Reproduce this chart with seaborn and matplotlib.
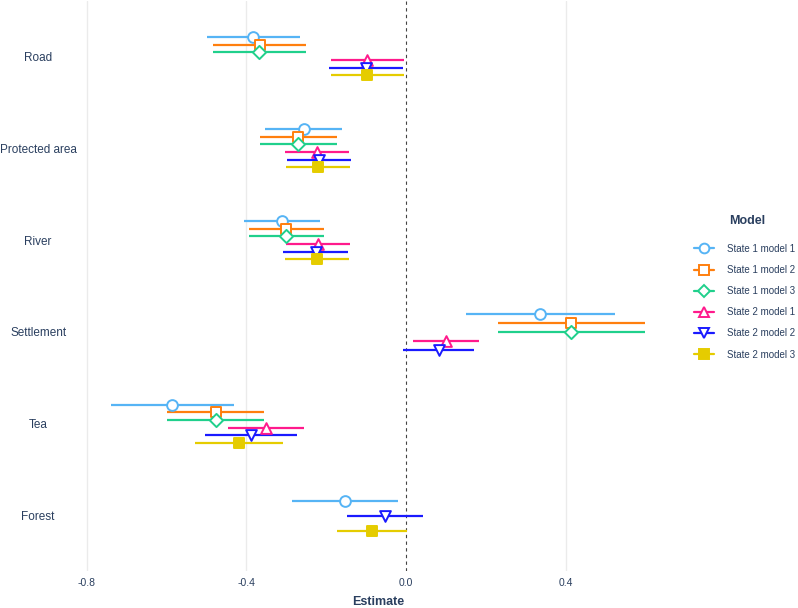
import numpy as np
import pandas as pd
import seaborn as sns
import matplotlib.pyplot as plt
from matplotlib.lines import Line2D

nan = np.nan

predictors = ["Road", "Protected area", "River", "Settlement", "Tea", "Forest"]
models = ["State 1 model 1", "State 1 model 2", "State 1 model 3",
          "State 2 model 1", "State 2 model 2", "State 2 model 3"]

s1m1_est = [-0.383, -0.257, -0.312, 0.336, -0.586, -0.152]
s1m1_lo = [-0.499, -0.354, -0.405, 0.150, -0.740, -0.286]
s1m1_hi = [-0.267, -0.161, -0.217, 0.523, -0.431, -0.021]

s1m2_est = [-0.367, -0.270, -0.300, 0.413, -0.476, nan]
s1m2_lo = [-0.483, -0.366, -0.394, 0.229, -0.598, nan]
s1m2_hi = [-0.252, -0.174, -0.206, 0.599, -0.355, nan]

s1m3_est = [-0.368, -0.271, -0.301, 0.413, -0.477, nan]
s1m3_lo = [-0.483, -0.366, -0.394, 0.229, -0.598, nan]
s1m3_hi = [-0.252, -0.174, -0.206, 0.599, -0.355, nan]

s2m1_est = [-0.097, -0.223, -0.222, 0.100, -0.351, nan]
s2m1_lo = [-0.189, -0.303, -0.301, 0.018, -0.445, nan]
s2m1_hi = [-0.005, -0.143, -0.141, 0.182, -0.257, nan]

s2m2_est = [-0.101, -0.218, -0.227, 0.082, -0.389, -0.054]
s2m2_lo = [-0.193, -0.298, -0.308, -0.008, -0.503, -0.147]
s2m2_hi = [-0.008, -0.137, -0.146, 0.170, -0.273, 0.042]

s2m3_est = [-0.097, -0.222, -0.224, nan, -0.419, -0.085]
s2m3_lo = [-0.189, -0.302, -0.303, nan, -0.529, -0.172]
s2m3_hi = [-0.005, -0.140, -0.143, nan, -0.308, 0.001]

colors = ["#56b4f5", "#ff7f0e", "#20d08c", "#ff1a8c", "#1a1aff", "#e5cc00"]
markers = ["o", "s", "D", "^", "v", "s"]
filled = [False, False, False, False, False, True]

est = [s1m1_est, s1m2_est, s1m3_est, s2m1_est, s2m2_est, s2m3_est]
lo = [s1m1_lo, s1m2_lo, s1m3_lo, s2m1_lo, s2m2_lo, s2m3_lo]
hi = [s1m1_hi, s1m2_hi, s1m3_hi, s2m1_hi, s2m2_hi, s2m3_hi]

rows = []
for m, name in enumerate(models):
    for p, pred in enumerate(predictors):
        if not np.isnan(est[m][p]):
            rows.append(dict(model=name, mi=m, predictor=pred, pi=p,
                             est=est[m][p], lo=lo[m][p], hi=hi[m][p]))
df = pd.DataFrame(rows)

# dodge like ggplot position_dodge(width=0.5)
dodge = 0.5
df["ypos"] = 0.0
for p, g in df.groupby("pi"):
    g = g.sort_values("mi")
    n = len(g)
    for k, idx in enumerate(g.index):
        df.loc[idx, "ypos"] = p + (k - (n - 1) / 2) * dodge / n

sns.set_theme(style="white")
plt.rcParams["font.family"] = ["Liberation Sans", "DejaVu Sans"]
txt = "#2a3f5f"

fig = plt.figure(figsize=(7.98, 6.08), dpi=100)
ax = fig.add_axes([84 / 798, 37 / 608, (672 - 84) / 798, (607 - 37) / 608])

for x in [-0.8, -0.4, 0.4]:
    ax.axvline(x, color="#ebebeb", lw=1.0, zorder=0)
ax.axvline(0, color="#444444", lw=0.8, ls=(0, (3, 3)), zorder=1)

for m, name in enumerate(models):
    d = df[df["model"] == name]
    ax.hlines(d["ypos"], d["lo"], d["hi"], color=colors[m], lw=1.6, zorder=2)
    sns.scatterplot(data=d, x="est", y="ypos", ax=ax, marker=markers[m],
                    s=60 if markers[m] != "D" else 45,
                    facecolor=colors[m] if filled[m] else "white",
                    edgecolor=colors[m], linewidth=1.4, legend=False, zorder=3)

xmin, xmax = df["lo"].min(), df["hi"].max()
pad = (xmax - xmin) * 0.05
ax.set_xlim(xmin - pad, xmax + pad)
ax.set_ylim(len(predictors) - 1 + 0.6, -0.6)
ax.set_xticks([-0.8, -0.4, 0.0, 0.4])
ax.set_xticklabels(["-0.8", "-0.4", "0.0", "0.4"])
ax.set_yticks(range(len(predictors)))
ax.set_yticklabels(predictors)
ax.tick_params(axis="y", length=0, pad=33, labelsize=8.5, labelcolor=txt)
ax.tick_params(axis="x", length=0, pad=5, labelsize=7.5, labelcolor=txt)
for lab in ax.get_yticklabels():
    lab.set_ha("center")
ax.set_xlabel("Estimate", fontsize=9, fontweight="bold", color=txt, labelpad=6)
ax.set_ylabel("")
for s in ax.spines.values():
    s.set_visible(False)

handles = [Line2D([0], [0], color=c, lw=1.6, marker=mk,
                  markersize=7 if mk != "D" else 6, markeredgewidth=1.4,
                  markerfacecolor=c if f else "white", markeredgecolor=c)
           for c, mk, f in zip(colors, markers, filled)]
leg = fig.legend(handles, models, loc="upper left",
                 bbox_to_anchor=(685 / 798, 1 - 235 / 608), frameon=False,
                 fontsize=7, labelspacing=1.15,
                 handlelength=2.1, handletextpad=1.3)
for t in leg.get_texts():
    t.set_color(txt)
fig.text(729 / 798, 1 - 221 / 608, "Model", fontsize=9, fontweight="bold",
         color=txt, va="center", ha="left")

fig.savefig("out.png", dpi=100)
